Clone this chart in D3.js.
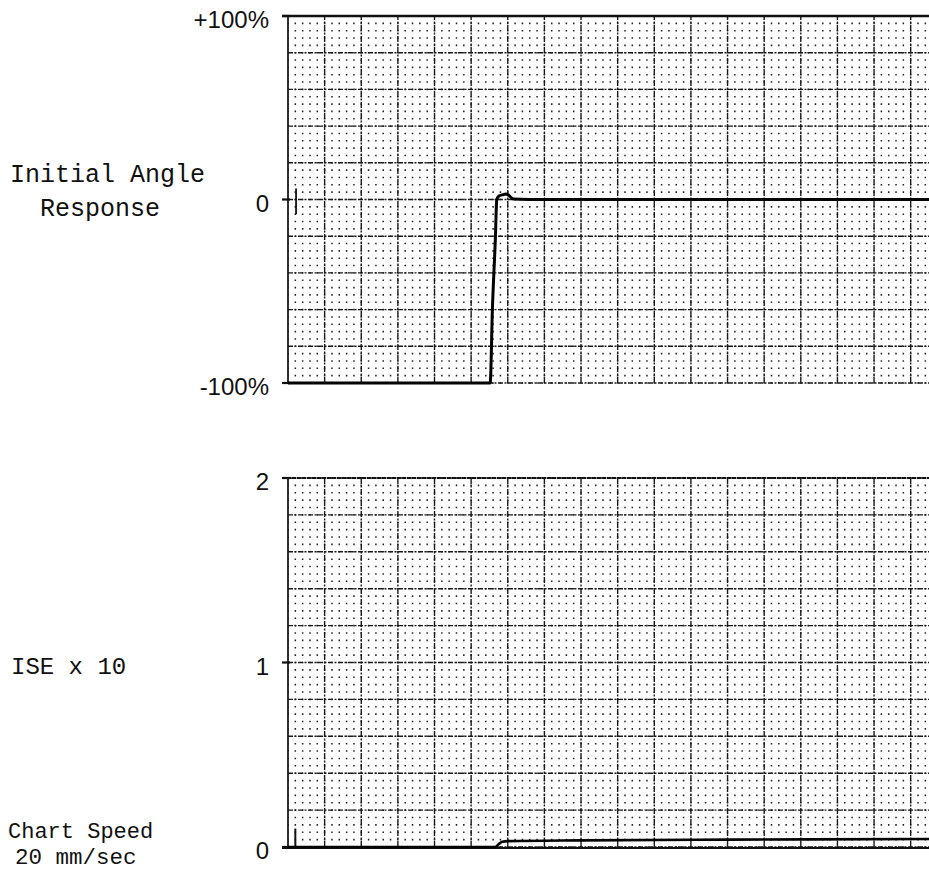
<!DOCTYPE html>
<html>
<head>
<meta charset="utf-8">
<script src="https://cdn.jsdelivr.net/npm/d3@7"></script>
<style>
  html, body { margin: 0; padding: 0; background: #fff; }
  svg { display: block; }
</style>
</head>
<body>
<div id="chart"></div>
<script>
const width = 929;
const height = 877;

// time axis in chart divisions (one major division = 5 mm of paper)
const timeDomain = [0, 17.5];

// top panel: initial angle response, percent
const angleTicks = [100, 0, -100];
const angleTickLabels = ['+100%', '0', '-100%'];
const angleTrace = [
  [0, -100], [5.52, -100], [5.58, -60], [5.66, -22], [5.70, 0],
  [5.76, 2], [5.85, 2.5], [5.95, 3], [6.01, 2.5], [6.15, 0.3],
  [7.0, 0], [17.5, 0]
];

// bottom panel: ISE x 10
const iseTicks = [2, 1, 0];
const iseTickLabels = ['2', '1', '0'];
const iseTrace = [
  [0, 0], [5.66, 0], [5.75, 0.015], [5.85, 0.028], [6.0, 0.032],
  [8, 0.036], [12, 0.04], [17.5, 0.043]
];

const x = d3.scaleLinear().domain(timeDomain).range([288, 929]);
const yAngle = d3.scaleLinear().domain([-100, 100]).range([383, 16]);
const yIse = d3.scaleLinear().domain([0, 2]).range([847, 478]);

const svg = d3.select('#chart').append('svg')
  .attr('width', width)
  .attr('height', height);

const monoFont = "'Liberation Mono', 'DejaVu Sans Mono', monospace";
const sansFont = "'Liberation Sans', Arial, sans-serif";

function gridPanel(y, majorStep, minorStep, ticks, labels) {
  const g = svg.append('g');
  const [y0, y1] = y.domain();
  const xMajor = d3.range(0, timeDomain[1] + 1e-6, 1);
  const yMajor = d3.range(y0, y1 + 1e-6, majorStep);
  const yMinor = d3.range(y0, y1 + 1e-6, minorStep);
  const minorPx = x(0.2) - x(0);

  // dotted minor grid: dots land on minor intersections
  g.append('g')
    .selectAll('line')
    .data(yMinor)
    .join('line')
    .attr('x1', x(0))
    .attr('x2', x.range()[1])
    .attr('y1', (d) => y(d))
    .attr('y2', (d) => y(d))
    .attr('stroke', '#222')
    .attr('stroke-width', 1.6)
    .attr('stroke-dasharray', `1.5 ${minorPx - 1.5}`)
    .attr('stroke-dashoffset', 0.75);

  // major horizontal lines (broken)
  g.append('g')
    .selectAll('line')
    .data(yMajor)
    .join('line')
    .attr('x1', x(0))
    .attr('x2', x.range()[1])
    .attr('y1', (d) => y(d))
    .attr('y2', (d) => y(d))
    .attr('stroke', '#1a1a1a')
    .attr('stroke-width', 1.4)
    .attr('stroke-dasharray', '5 1.5 2 1.5');

  // major vertical lines
  g.append('g')
    .selectAll('line')
    .data(xMajor)
    .join('line')
    .attr('x1', (d) => x(d))
    .attr('x2', (d) => x(d))
    .attr('y1', y(y0))
    .attr('y2', y(y1))
    .attr('stroke', '#1a1a1a')
    .attr('stroke-width', (d) => (d === 0 ? 1.8 : 1.4))
    .attr('stroke-dasharray', (d) => (d === 0 ? null : '6 1.5 2 1.5'));

  // short left ticks
  g.append('g')
    .selectAll('line')
    .data(ticks)
    .join('line')
    .attr('x1', x(0) - 6)
    .attr('x2', x(0) + 2)
    .attr('y1', (d) => y(d))
    .attr('y2', (d) => y(d))
    .attr('stroke', '#111')
    .attr('stroke-width', 2.2);

  g.append('g')
    .selectAll('text')
    .data(ticks)
    .join('text')
    .attr('x', 269)
    .attr('y', (d) => y(d))
    .attr('dy', '0.5em')
    .attr('text-anchor', 'end')
    .attr('font-family', sansFont)
    .attr('font-size', 24)
    .attr('fill', '#111')
    .text((d, i) => labels[i]);

  return g;
}

const topPanel = gridPanel(yAngle, 20, 4, angleTicks, angleTickLabels);
const bottomPanel = gridPanel(yIse, 0.2, 0.04, iseTicks, iseTickLabels);

// heavy top borders
topPanel.append('line')
  .attr('x1', x(0) - 6).attr('x2', x.range()[1])
  .attr('y1', yAngle(100)).attr('y2', yAngle(100))
  .attr('stroke', '#111').attr('stroke-width', 2.6);
bottomPanel.append('line')
  .attr('x1', x(0) - 6).attr('x2', x.range()[1])
  .attr('y1', yIse(2)).attr('y2', yIse(2))
  .attr('stroke', '#111').attr('stroke-width', 2.2)
  .attr('stroke-dasharray', '4 1');
bottomPanel.append('line')
  .attr('x1', x(0) - 6).attr('x2', x.range()[1])
  .attr('y1', yIse(0) + 1).attr('y2', yIse(0) + 1)
  .attr('stroke', '#111').attr('stroke-width', 2.2);

// small cross mark at the zero line and pen mark on ISE baseline
topPanel.append('line')
  .attr('x1', x(0.22)).attr('x2', x(0.22))
  .attr('y1', yAngle(6)).attr('y2', yAngle(-8))
  .attr('stroke', '#111').attr('stroke-width', 1.8);
bottomPanel.append('line')
  .attr('x1', x(0.2)).attr('x2', x(0.2))
  .attr('y1', yIse(0.1)).attr('y2', yIse(0))
  .attr('stroke', '#111').attr('stroke-width', 2);

const line = d3.line().curve(d3.curveMonotoneX);

svg.append('path')
  .attr('fill', 'none')
  .attr('stroke', '#000')
  .attr('stroke-width', 3)
  .attr('stroke-linejoin', 'round')
  .attr('d', line.x((d) => x(d[0])).y((d) => yAngle(d[1]))(angleTrace));

svg.append('path')
  .attr('fill', 'none')
  .attr('stroke', '#000')
  .attr('stroke-width', 2.6)
  .attr('stroke-linejoin', 'round')
  .attr('d', line.x((d) => x(d[0])).y((d) => yIse(d[1]))(iseTrace));

// left-hand captions
const captions = [
  { text: 'Initial Angle', x: 10, y: 182, size: 25 },
  { text: 'Response', x: 40, y: 216, size: 25 },
  { text: 'ISE x 10', x: 11, y: 674, size: 24 },
  { text: 'Chart Speed', x: 8, y: 838, size: 22 },
  { text: '20 mm/sec', x: 15, y: 864, size: 22.5 }
];

svg.append('g')
  .selectAll('text')
  .data(captions)
  .join('text')
  .attr('x', (d) => d.x)
  .attr('y', (d) => d.y)
  .attr('font-family', monoFont)
  .attr('font-size', (d) => d.size)
  .attr('fill', '#111')
  .text((d) => d.text);
</script>
</body>
</html>
